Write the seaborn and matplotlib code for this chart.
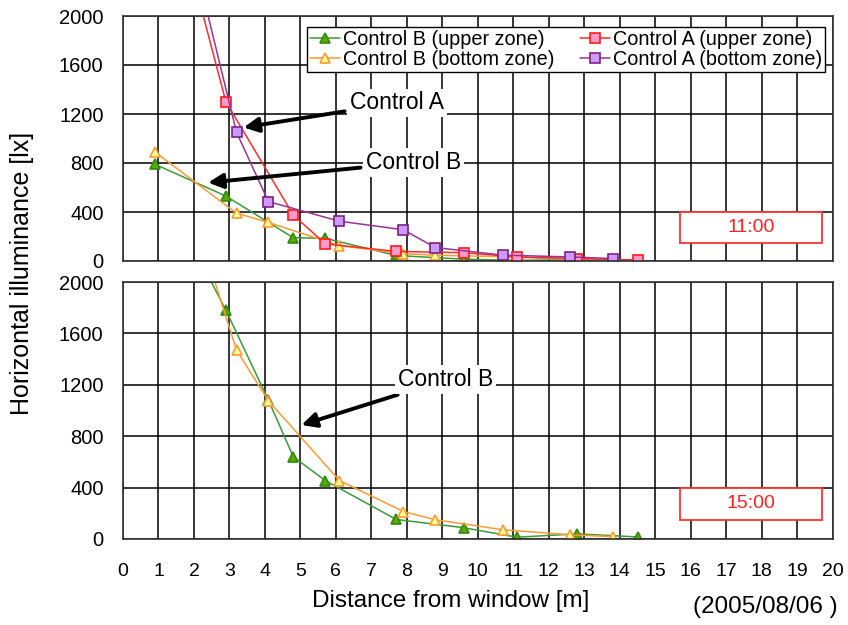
import matplotlib
matplotlib.use("Agg")
import matplotlib.pyplot as plt
import seaborn as sns
from matplotlib.patches import Rectangle

# ---- data ----
# 11:00
x_b_up_11 = [0.9, 2.9, 4.8, 5.7, 7.7, 9.6, 11.1, 12.8, 14.5]
y_b_up_11 = [790, 530, 190, 185, 45, 15, 5, 10, 3]
x_b_bot_11 = [0.9, 3.2, 4.1, 6.1, 7.9, 8.8, 10.7, 12.6, 13.8]
y_b_bot_11 = [890, 390, 315, 125, 60, 47, 35, 15, 10]
x_a_up_11 = [0.9, 2.9, 4.8, 5.7, 7.7, 9.6, 11.1, 12.8, 14.5]
y_a_up_11 = [3500, 1300, 375, 140, 78, 68, 33, 20, 8]
x_a_bot_11 = [0.9, 3.2, 4.1, 6.1, 7.9, 8.8, 10.7, 12.6, 13.8]
y_a_bot_11 = [3780, 1050, 485, 325, 255, 110, 48, 33, 20]

# 15:00
x_b_up_15 = [0.9, 2.9, 4.1, 4.8, 5.7, 7.7, 9.6, 11.1, 12.8, 14.5]
y_b_up_15 = [2850, 1780, 1080, 640, 455, 152, 88, 14, 40, 16]
x_b_bot_15 = [0.9, 3.2, 4.1, 6.1, 7.9, 8.8, 10.7, 12.6, 13.8]
y_b_bot_15 = [3470, 1470, 1075, 455, 214, 150, 72, 33, 18]

y_ticks = [0, 400, 800, 1200, 1600, 2000]
x_ticks = list(range(0, 21))

styles = {
    "b_up": dict(color="#3b9a3b", marker="^", markerfacecolor="#5fa800",
                 markeredgecolor="#2f8a10", label="Control B (upper zone)"),
    "b_bot": dict(color="#ff9a33", marker="^", markerfacecolor="#ffff99",
                  markeredgecolor="#ff9a33", label="Control B (bottom zone)"),
    "a_up": dict(color="#ff2a2a", marker="s", markerfacecolor="#ff99c8",
                 markeredgecolor="#ff1a1a", label="Control A (upper zone)"),
    "a_bot": dict(color="#993399", marker="s", markerfacecolor="#cc99ff",
                  markeredgecolor="#802080", label="Control A (bottom zone)"),
}

sns.set_style("white")
plt.rcParams["font.family"] = ["Liberation Sans", "DejaVu Sans"]
plt.rcParams["text.color"] = "black"
plt.rcParams["xtick.color"] = "black"
plt.rcParams["ytick.color"] = "black"

fig = plt.figure(figsize=(8.48, 6.25), dpi=100)
ax1 = fig.add_axes([0.145, 0.5824, 0.837, 0.392])
ax2 = fig.add_axes([0.145, 0.1376, 0.837, 0.4112])


def draw(ax, x, y, key, legend=True):
    st = dict(styles[key])
    if not legend:
        st.pop("label")
    sns.lineplot(x=x, y=y, ax=ax, linewidth=1.1, markersize=7,
                 markeredgewidth=1.2, legend=False, **st)


draw(ax1, x_b_up_11, y_b_up_11, "b_up")
draw(ax1, x_b_bot_11, y_b_bot_11, "b_bot")
draw(ax1, x_a_up_11, y_a_up_11, "a_up")
draw(ax1, x_a_bot_11, y_a_bot_11, "a_bot")
draw(ax2, x_b_up_15, y_b_up_15, "b_up", legend=False)
draw(ax2, x_b_bot_15, y_b_bot_15, "b_bot", legend=False)

for ax in (ax1, ax2):
    ax.set_xlim(0, 20)
    ax.set_ylim(0, 2000)
    ax.set_xticks(x_ticks)
    ax.set_yticks(y_ticks)
    ax.grid(True, color="black", linewidth=1.1)
    ax.set_axisbelow(True)
    for sp in ax.spines.values():
        sp.set_color("#333333")
        sp.set_linewidth(1.2)
    ax.tick_params(length=0, pad=14, labelsize=14.5, labelcolor="black")
    ax.set_xlabel("")
    ax.set_ylabel("")

ax1.set_xticklabels([])
ax2.tick_params(axis="x", pad=17, labelsize=14)

leg = ax1.legend(loc="upper right", bbox_to_anchor=(0.989, 0.955), ncol=2,
                 fontsize=14.3, frameon=True, fancybox=False, framealpha=1,
                 edgecolor="black", borderpad=0.15, handlelength=1.5,
                 handletextpad=0.15, columnspacing=1.3, labelspacing=0.05,
                 borderaxespad=0)
leg.get_frame().set_linewidth(1.0)

# time boxes
for ax, txt in ((ax1, "11:00"), (ax2, "15:00")):
    ax.add_patch(Rectangle((0.7845, 0.074), 0.2, 0.125, transform=ax.transAxes,
                           facecolor="white", edgecolor="#ff3333", lw=1.3, zorder=5))
    ax.text(0.8845, 0.1365, txt, transform=ax.transAxes, ha="center", va="center",
            color="#ff2020", fontsize=14, zorder=6)

arrow = dict(arrowstyle="-|>", color="black", lw=2.8, mutation_scale=22,
             shrinkA=2, shrinkB=0)
box = dict(facecolor="white", edgecolor="none", pad=2)
ax1.annotate("Control A", xy=(3.4, 1090), xytext=(6.4, 1290), fontsize=16.5,
             ha="left", va="center", arrowprops=arrow, bbox=box, zorder=7)
ax1.annotate("Control B", xy=(2.4, 640), xytext=(6.85, 805), fontsize=16.5,
             ha="left", va="center", arrowprops=arrow, bbox=box, zorder=7)
ax2.annotate("Control B", xy=(5.03, 887), xytext=(7.75, 1240), fontsize=16.5,
             ha="left", va="center", arrowprops=arrow, bbox=box, zorder=7)

fig.text(0.026, 0.562, "Horizontal illuminance [lx]", rotation=90, ha="center",
         va="center", fontsize=18)
fig.text(0.531, 0.038, "Distance from window [m]", ha="center", va="center",
         fontsize=17.5)
fig.text(0.902, 0.029, "(2005/08/06 )", ha="center", va="center",
         fontsize=17.5)

fig.savefig("out.png", dpi=100)
